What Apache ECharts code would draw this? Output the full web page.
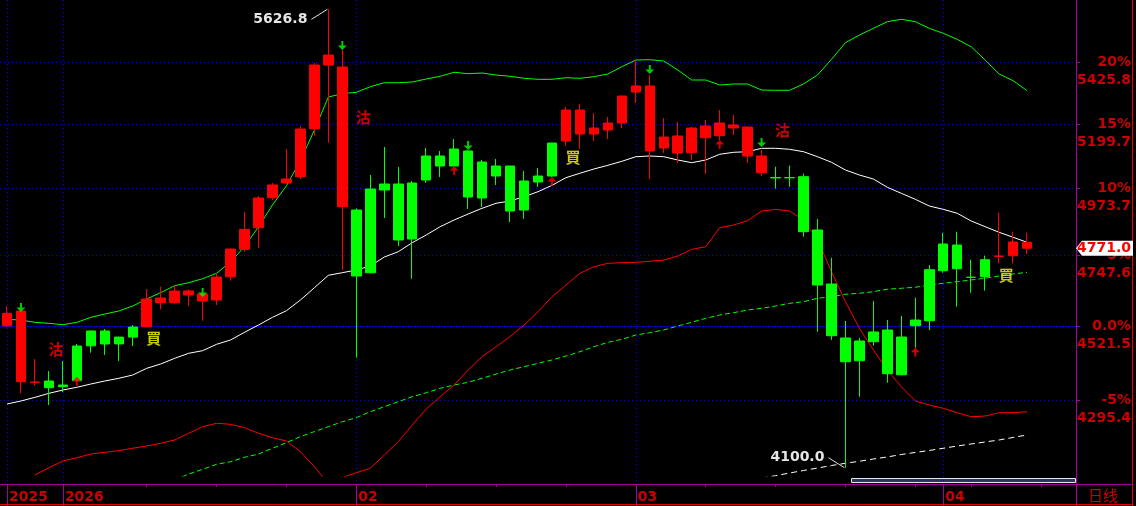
<!DOCTYPE html>
<html><head><meta charset="utf-8">
<script src="https://cdn.jsdelivr.net/npm/echarts@6/dist/echarts.min.js"></script>
<style>html,body{margin:0;padding:0;background:#000;}#c{width:1136px;height:506px;}</style>
</head><body><div id="c"></div>
<script>
// ---------- data ----------
const dates = [
'2025-12-26','2025-12-29','2025-12-30','2025-12-31',
'2026-01-02','2026-01-05','2026-01-06','2026-01-07','2026-01-08','2026-01-09',
'2026-01-12','2026-01-13','2026-01-14','2026-01-15','2026-01-16',
'2026-01-19','2026-01-20','2026-01-21','2026-01-22','2026-01-23',
'2026-01-26','2026-01-27','2026-01-28','2026-01-29','2026-01-30',
'2026-02-02','2026-02-03','2026-02-04','2026-02-05','2026-02-06',
'2026-02-09','2026-02-10','2026-02-11','2026-02-12','2026-02-13',
'2026-02-16','2026-02-17','2026-02-18','2026-02-19','2026-02-20',
'2026-02-23','2026-02-24','2026-02-25','2026-02-26','2026-02-27',
'2026-03-02','2026-03-03','2026-03-04','2026-03-05','2026-03-06',
'2026-03-09','2026-03-10','2026-03-11','2026-03-12','2026-03-13',
'2026-03-16','2026-03-17','2026-03-18','2026-03-19','2026-03-20',
'2026-03-23','2026-03-24','2026-03-25','2026-03-26','2026-03-27',
'2026-03-30','2026-03-31',
'2026-04-01','2026-04-02','2026-04-06','2026-04-07','2026-04-08','2026-04-09','2026-04-10',
'2026-04-13','2026-04-14','2026-04-15'];

const opens = [4522,4568.6,4349,4353,4336,4354,4460,4506,4466,4487,
4519.3,4595,4595,4619.4,4622.6,4603.5,4678,4767.4,4839,4940.4,
4991,5012.6,5181.6,5414.6,5407,4898.6,4691,4966.8,4987.4,4801.5,
5001.2,5084.8,5049.8,5102.4,4939.4,5049.8,5049.8,4898.6,4994.3,5015,
5137.7,5248.9,5162.6,5176.9,5202,5314.5,5336.6,5113,5155.5,5096.4,
5191.2,5156.6,5184.1,5187.6,5084.8,5010,5009.5,5012.6,4831.5,4654.6,
4484.3,4414.4,4472.8,4509.1,4371.9,4522.4,4538,4697.5,4781.6,4676.5,
4678.1,4744,4746.4,4790.6];
const closes = [4561.3,4350.9,4350,4333,4341,4459.5,4506,4465.7,4487,4518.4,
4606.7,4609.8,4632,4632.2,4600.3,4677.2,4768.4,4833.8,4939.4,4984,
5004.6,5180.5,5414.6,5452.1,4910,4680.4,4970.2,4987.4,4798.2,4990.9,
5084.8,5049.8,5109.4,4942.8,5063.8,5015,4895.2,4997.8,5015,5130.6,
5248.9,5162.6,5184.1,5202,5299.9,5336.6,5102.4,5151.9,5095.3,5184.1,
5149.4,5202,5194.8,5084.8,5026.6,5008.5,5008.9,4825.8,4651.3,4491.3,
4411.4,4475,4502.9,4375,4487.3,4540.2,4700.7,4784.9,4704,4676,
4733.3,4745.5,4791.6,4771.0];
const lows = [4520,4316.2,4339.5,4281.5,4320,4351.5,4439,4432,4413.5,4459.5,
4518,4574,4592,4584.4,4538,4587.6,4665,4759.5,4772.7,4932.6,
4989,5004.6,5156.6,5131.6,4700,4423.6,4689,4871.7,4778.3,4671.6,
4990.9,5011.5,5049,4902,4908.8,4984,4858.3,4868.3,4977.1,5012,
5120,5109.4,5137.7,5144.8,5184.1,5274.4,5004.6,5095.3,5060.3,5070.8,
5022,5141.2,5159.1,5060.3,5016,4971.2,4978.1,4809.2,4503.8,4478.1,
4100.0,4306,4460.4,4347.9,4370,4454.4,4509.1,4691.1,4582.2,4626.8,
4633.2,4721.6,4721.6,4752];
const highs = [4584.4,4570,4419.6,4383.1,4413.5,4465.7,4507,4512.2,4488,4524.6,
4638.5,4646,4649,4637.6,4624,4689.1,4770,4891.9,4946.2,4991,
5109.4,5191.2,5422,5626.8,5471,4904.3,5018.5,5116.5,5046.3,4997.8,
5113,5102.4,5144.8,5106,5070.8,5074.3,5050,5032.4,5042.8,5131,
5259.8,5270.7,5238,5223.6,5301,5433.2,5377.3,5220,5205.6,5187.6,
5212.8,5248.9,5230.8,5189,5105.8,5047.4,5050.9,5023.1,4868.3,4739.8,
4537.1,4484.3,4600.3,4540.2,4552.8,4610.7,4716.1,4822.5,4825.8,4733.3,
4746.4,4889.5,4825.8,4822.5];

const upperBand = [4542.5,4540.2,4533.0,4529.9,4525.5,4533.0,4548.7,4559.1,4568.6,4584.4,
4606.7,4626.8,4649.1,4658.8,4671.6,4689.1,4726.8,4776.0,4842.5,4915.6,
4981.5,5068.3,5176.9,5296.2,5308.4,5313.4,5334.0,5348.8,5348.8,5351.4,
5362.5,5372.5,5387.4,5382.2,5384.8,5377.3,5372.5,5365.1,5361.4,5361.4,
5367.3,5365.1,5371.0,5381.1,5408.3,5433.2,5434.4,5429.5,5396.0,5358.8,
5358.8,5340.3,5344.0,5344.0,5321.9,5320.8,5320.8,5344.0,5377.3,5435.8,
5498.6,5527.9,5553.6,5579.0,5588.3,5579.0,5553.6,5534.4,5511.5,5483.4,
5433.2,5381.1,5356.2,5319.3];
const midLine = [4284.4,4293.3,4304.2,4316.1,4326.0,4334.1,4344.0,4353.0,4361.1,4371.1,
4391.3,4404.4,4421.8,4437.1,4445.1,4464.8,4478.1,4501.9,4524.6,4548.7,
4569.6,4603.5,4642.7,4682.7,4691.1,4699.8,4712.8,4742.1,4759.5,4789.3,
4814.8,4842.5,4865.0,4885.2,4904.4,4921.4,4929.2,4943.8,4961.0,4982.9,
5009.2,5024.5,5039.3,5052.2,5066.2,5082.3,5084.8,5082.3,5070.8,5061.4,
5070.8,5090.8,5097.8,5099.9,5111.9,5111.9,5108.4,5099.9,5082.3,5062.8,
5035.9,5018.5,5004.6,4976.0,4955.4,4935.0,4912.2,4900.9,4887.6,4861.6,
4842.5,4823.8,4807.2,4790.6];
const lowerLine = [null,null,4079.4,4100.0,4119.0,4128.4,4139.0,4143.9,4148.5,4155.4,
4161.9,4169.7,4179.3,4198.6,4217.8,4227.7,4224.8,4214.9,4198.6,4185.9,
4176.4,4145.6,4102.9,4054.1,4072.4,4085.9,4098.3,4136.1,4174.4,4222.7,
4269.7,4306.0,4341.0,4386.2,4426.7,4457.3,4488.2,4524.6,4566.4,4614.0,
4651.3,4689.1,4710.5,4721.6,4723.5,4724.8,4728.1,4732.3,4745.4,4767.4,
4776.0,4839.1,4848.2,4862.6,4895.2,4900.9,4895.2,4865.0,4800.5,4694.3,
4598.0,4514.3,4447.3,4386.2,4335.9,4293.3,4281.5,4271.7,4258.8,4247.0,
4249.0,4258.8,4258.8,4261.7];
const longMA = [null,null,null,null,null,null,null,null,null,null,
null,null,4065.3,4082.2,4095.5,4109.7,4117.0,4129.6,4139.0,4155.4,
4171.5,4188.9,4203.6,4217.8,4232.5,4244.1,4261.7,4276.5,4291.2,4306.0,
4317.9,4331.0,4341.0,4349.1,4361.1,4374.1,4386.2,4396.2,4406.5,4416.6,
4428.8,4442.0,4457.3,4470.9,4480.2,4493.5,4500.7,4509.1,4521.5,4533.1,
4545.6,4556.0,4563.3,4571.7,4577.1,4584.4,4592.9,4598.0,4608.9,4614.0,
4621.7,4624.9,4630.0,4637.7,4640.9,4644.1,4651.3,4657.0,4662.1,4667.6,
4673.1,4680.4,4686.9,4692.4];
const slowLine = [null,null,null,null,null,null,null,null,null,null,
null,null,null,null,null,null,null,null,null,null,
null,null,null,null,null,null,null,null,null,null,
null,null,null,null,null,null,null,null,null,null,
null,null,null,null,null,null,null,null,null,null,
null,null,null,null,4071.0,4077.4,4085.0,4092.1,4099.1,4106.2,
4112.6,4118.3,4124.8,4130.5,4137.6,4143.4,4149.1,4155.4,4161.9,4167.8,
4173.5,4179.3,4186.6,4193.7];

// signals: [bar index, text, price]
const signals = [[3,'沽',4448.9],[10,'買',4482.8],[25,'沽',5223.6],[40,'買',5079.5],[55,'沽',5176.9],[71,'買',4682.1]];
// arrows: [bar index, price of arrow tip]
const sellArrows = [[1,4565.6],[14,4613.0],[24,5471.0],[33,5105.8],[46,5381.1],[54,5116.5]];
const buyArrows = [[5,4365.9],[32,5049.8],[39,5011.5],[51,5141.2],[65,4454.4]];

const basePrice = 4521.5;
const pctLevels = [-5, 0, 5, 10, 15, 20];
const yMin = 4076.6, yMax = 5663.2;

// ---------- derived ----------
const RED = '#ff0000', GREEN = '#00ff00', AXIS_RED = '#cc0000', PURPLE = '#a000a0', GRID_BLUE = '#0000ff';
const FONT = '"DejaVu Sans", sans-serif';

const labelIdx = new Set();
const labelText = {};
dates.forEach((d, i) => {
  if (i === 0) { labelIdx.add(i); labelText[i] = d.slice(0, 4); return; }
  const p = dates[i - 1];
  if (d.slice(0, 4) !== p.slice(0, 4)) { labelIdx.add(i); labelText[i] = d.slice(0, 4); }
  else if (d.slice(5, 7) !== p.slice(5, 7)) { labelIdx.add(i); labelText[i] = d.slice(5, 7); }
});
const weekIdx = new Set();
dates.forEach((d, i) => {
  const wd = new Date(d + 'T00:00:00Z').getUTCDay();
  if (wd === 1 && !labelIdx.has(i) && !labelIdx.has(i - 1)) weekIdx.add(i);
});

let state = 'buy';
const candleData = opens.map((o, i) => {
  const s = signals.find(x => x[0] === i);
  if (s) state = s[1] === '買' ? 'buy' : 'sell';
  const col = state === 'buy' ? RED : GREEN;
  return { value: [o, closes[i], lows[i], highs[i]],
           itemStyle: { color: col, color0: col, borderColor: col, borderColor0: col } };
});

let hiI = 0, loI = 0;
highs.forEach((h, i) => { if (h > highs[hiI]) hiI = i; });
lows.forEach((l, i) => { if (l < lows[loI]) loI = i; });
const extremes = [[hiI, highs[hiI], 1], [loI, lows[loI], -1]];
const lastI = closes.length - 1;

function lineSeries(data, color, dash) {
  return { type: 'line', data: data, symbol: 'none', showSymbol: false, connectNulls: false,
    lineStyle: { color: color, width: 1, type: dash || 'solid' }, z: 2, silent: true };
}

const chart = echarts.init(document.getElementById('c'), null, { renderer: 'canvas' });
chart.setOption({
  backgroundColor: '#000000',
  animation: false,
  grid: { left: -1, right: 60, top: 0, bottom: 30, containLabel: false },
  xAxis: [{
    type: 'category', data: dates, boundaryGap: true, offset: 8,
    axisLine: { show: false },
    axisTick: { show: true, alignWithLabel: true, length: 22, interval: (i) => labelIdx.has(i),
                lineStyle: { color: PURPLE, width: 1 } },
    axisLabel: { show: true, interval: (i) => labelIdx.has(i), formatter: (v, i) => labelText[i] || '',
                 align: 'left', padding: [0, 0, 0, 2], margin: 6,
                 color: AXIS_RED, fontWeight: 'bold', fontSize: 14, fontFamily: FONT },
    splitLine: { show: false }
  }, {
    type: 'category', data: dates, boundaryGap: true, offset: 8, position: 'bottom',
    axisLine: { show: false },
    axisTick: { show: true, alignWithLabel: true, length: 3, interval: (i) => weekIdx.has(i),
                lineStyle: { color: PURPLE, width: 1 } },
    axisLabel: { show: false }, splitLine: { show: false }
  }],
  yAxis: { type: 'log', logBase: 10, min: yMin, max: yMax, position: 'right', show: false,
           splitLine: { show: false } },
  graphic: [
    { type: 'line', z: 0, shape: { x1: 1076.5, y1: 0, x2: 1076.5, y2: 506 }, style: { stroke: PURPLE, lineWidth: 1 } },
    { type: 'line', z: 0, shape: { x1: 0, y1: 484.5, x2: 1132, y2: 484.5 }, style: { stroke: PURPLE, lineWidth: 1 } },
    { type: 'line', z: 0, shape: { x1: 1132.5, y1: 0, x2: 1132.5, y2: 506 }, style: { stroke: '#e00000', lineWidth: 1 } },
    { type: 'line', z: 0, shape: { x1: 0, y1: 504.5, x2: 1133, y2: 504.5 }, style: { stroke: '#e00000', lineWidth: 1 } },
    { type: 'rect', z: 0, shape: { x: 851.5, y: 478.5, width: 224, height: 4 }, style: { fill: '#2a3660', stroke: '#e8e8e8', lineWidth: 1 } },
    { type: 'text', z: 0, x: 1103, y: 495, style: { text: '日线', align: 'center', verticalAlign: 'middle',
      fill: AXIS_RED, font: '15px "Noto Sans CJK SC", sans-serif' } }
  ],
  series: [
    { // horizontal percentage levels and right axis labels
      type: 'custom', z: 1, silent: true,
      data: pctLevels.map(p => [0, basePrice * (1 + p / 100), p]),
      encode: { x: 0, y: 1 },
      renderItem: function (params, api) {
        const cs = params.coordSys;
        const price = api.value(1), pct = api.value(2);
        const y = Math.round(api.coord([0, price])[1]) + 0.5;
        const xr = cs.x + cs.width;
        const tf = 'bold 14px ' + FONT;
        return { type: 'group', children: [
          { type: 'line', shape: { x1: cs.x, y1: y, x2: xr, y2: y },
            style: { stroke: GRID_BLUE, lineWidth: 1, lineDash: pct === 0 ? [2, 1] : [1, 3] } },
          { type: 'line', shape: { x1: xr, y1: y, x2: xr + 4, y2: y }, style: { stroke: PURPLE, lineWidth: 1 } },
          { type: 'text', x: xr + 55, y: y, style: { text: pct === 0 ? '0.0%' : pct + '%', align: 'right',
            verticalAlign: 'middle', fill: AXIS_RED, font: tf } },
          { type: 'text', x: xr + 55, y: y + 17.5, style: { text: price.toFixed(1), align: 'right',
            verticalAlign: 'middle', fill: AXIS_RED, font: tf } }
        ] };
      }
    },
    { // vertical period gridlines
      type: 'custom', z: 1, silent: true,
      data: Array.from(labelIdx).map(i => [i, yMin]),
      encode: { x: 0, y: 1 },
      renderItem: function (params, api) {
        const cs = params.coordSys;
        const x = Math.round(api.coord([api.value(0), api.value(1)])[0]) + 0.5;
        return { type: 'line', shape: { x1: x, y1: cs.y, x2: x, y2: cs.y + cs.height + 8 },
                 style: { stroke: GRID_BLUE, lineWidth: 1, lineDash: [1, 3] } };
      }
    },
    lineSeries(longMA, GREEN, [5, 3]),
    lineSeries(slowLine, '#ffffff', [6, 4]),
    lineSeries(lowerLine, RED),
    lineSeries(upperBand, GREEN),
    lineSeries(midLine, '#ffffff'),
    { type: 'candlestick', data: candleData, barWidth: 10, z: 3, silent: true,
      itemStyle: { borderWidth: 1 } },
    { type: 'scatter', data: sellArrows, z: 4, silent: true,
      symbol: 'path://M3.5,0L5.5,0L5.5,4.5L9,4.5L4.5,9L0,4.5L3.5,4.5Z', symbolSize: [9, 9], symbolOffset: [0, -4.5],
      itemStyle: { color: GREEN } },
    { type: 'scatter', data: buyArrows, z: 4, silent: true,
      symbol: 'path://M4.5,0L9,4.5L5.5,4.5L5.5,9L3.5,9L3.5,4.5L0,4.5Z', symbolSize: [9, 9], symbolOffset: [0, 4.5],
      itemStyle: { color: RED } },
    { type: 'scatter', z: 4, silent: true, symbolSize: 1, itemStyle: { color: 'rgba(0,0,0,0)' },
      data: signals.map(s => ({ value: [s[0], s[2]],
        label: { formatter: s[1], color: s[1] === '買' ? '#ffff00' : '#ff0000' } })),
      label: { show: true, position: 'inside', offset: [7, 0], fontSize: 15, fontWeight: 'bold',
               fontFamily: '"Noto Sans CJK TC", sans-serif' } },
    { // extreme value labels
      type: 'custom', z: 5, silent: true,
      data: extremes, encode: { x: 0, y: 1 },
      renderItem: function (params, api) {
        const p = api.coord([api.value(0), api.value(1)]);
        const dy = api.value(2) > 0 ? 10 : -10;
        return { type: 'group', children: [
          { type: 'line', shape: { x1: p[0] - 1, y1: p[1], x2: p[0] - 17, y2: p[1] + dy },
            style: { stroke: '#e0e0e0', lineWidth: 1 } },
          { type: 'text', x: p[0] - 21, y: p[1] + dy, style: { text: api.value(1).toFixed(1), align: 'right',
            verticalAlign: 'middle', fill: '#e6e6e6', font: 'bold 14px ' + FONT } }
        ] };
      }
    },
    { // last price marker
      type: 'custom', z: 6, silent: true,
      data: [[lastI, closes[lastI]]], encode: { x: 0, y: 1 },
      renderItem: function (params, api) {
        const cs = params.coordSys; const xr = cs.x + cs.width;
        const y = api.coord([api.value(0), api.value(1)])[1];
        return { type: 'group', children: [
          { type: 'polygon', shape: { points: [[xr, y], [xr + 6, y - 7.5], [xr + 57, y - 7.5], [xr + 57, y + 7.5], [xr + 6, y + 7.5]] },
            style: { fill: '#ffffff' } },
          { type: 'text', x: xr + 55, y: y, style: { text: api.value(1).toFixed(1), align: 'right',
            verticalAlign: 'middle', fill: '#ff0000', font: 'bold 14px ' + FONT } }
        ] };
      }
    }
  ]
});
</script></body></html>
